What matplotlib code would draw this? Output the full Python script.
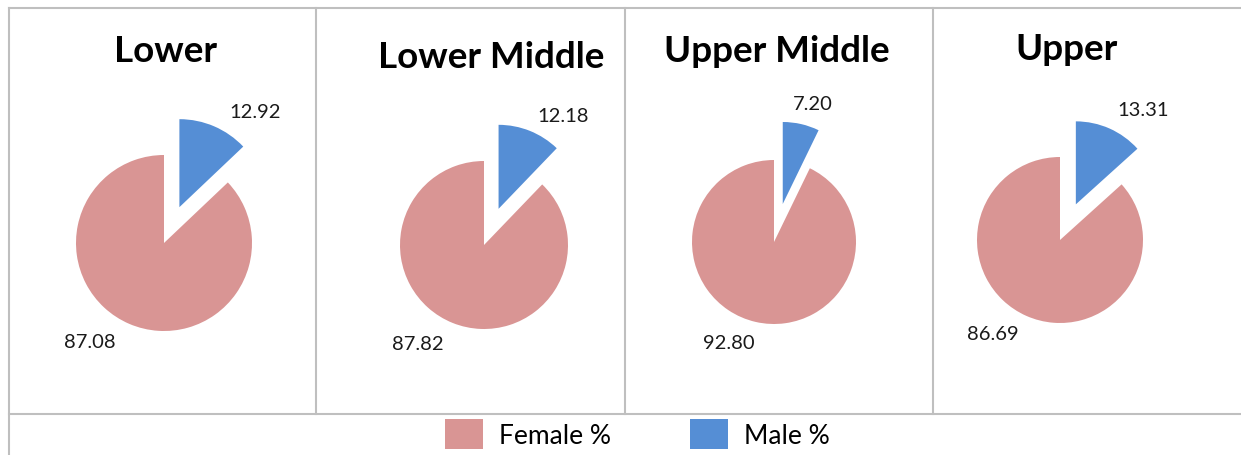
import matplotlib
matplotlib.use("Agg")
from matplotlib import pyplot as plt
from matplotlib.patches import Patch
from matplotlib.lines import Line2D

# data
classes = ["Lower", "Lower Middle", "Upper Middle", "Upper"]
female_pct = [87.08, 87.82, 92.80, 86.69]
male_pct = [12.92, 12.18, 7.20, 13.31]
series_names = ["Female %", "Male %"]

FEMALE_COL = "#D99594"
MALE_COL = "#558ED5"
GRID_COL = "#BFBFBF"

W, H = 1241, 456
plt.rcParams['font.family'] = ['Lato', 'DejaVu Sans']

# layout in pixels (y measured from the top of the image)
panel_left = [9, 316, 625, 933]
panel_width = [307, 309, 308, 308]
pie_center = [(164, 244), (484, 246), (774, 243), (1060, 241)]
pie_radius = [88, 84, 82, 83]
title_pos = [(166, 52), (491, 58), (777, 51), (1067, 50)]
male_lbl = [(255, 112), (563, 116), (813, 104), (1143, 110)]
female_lbl = [(90, 343), (418, 345), (729, 344), (993, 335)]
top, bottom_line = 9, 415

fig = plt.figure(figsize=(W / 100, H / 100), dpi=100)

for i, name in enumerate(classes):
    x0 = panel_left[i]
    w = panel_width[i]
    ax = fig.add_axes([x0 / W, (H - bottom_line) / H, w / W, (bottom_line - top) / H])

    cx, cy = pie_center[i]
    ax.pie([male_pct[i], female_pct[i]], colors=[MALE_COL, FEMALE_COL],
           startangle=90, counterclock=False, explode=[39, 0],
           radius=pie_radius[i], center=(cx, H - cy),
           wedgeprops=dict(linewidth=0), frame=True)
    ax.set_aspect('auto')
    ax.set_xlim(x0, x0 + w)
    ax.set_ylim(H - bottom_line, H - top)
    ax.axis('off')

    tx, ty = title_pos[i]
    ax.text(tx, H - ty, name, ha='center', va='center', fontsize=26.5,
            fontweight='bold', color='black')
    mx, my = male_lbl[i]
    ax.text(mx, H - my, f"{male_pct[i]:.2f}", ha='center', va='center',
            fontsize=14.5, color='#1a1a1a')
    fx, fy = female_lbl[i]
    ax.text(fx, H - fy, f"{female_pct[i]:.2f}", ha='center', va='center',
            fontsize=14.5, color='#1a1a1a')

# frame lines
def hline(y, x0, x1):
    fig.add_artist(Line2D([x0 / W, x1 / W], [1 - y / H, 1 - y / H],
                          color=GRID_COL, lw=1.5, transform=fig.transFigure))

def vline(x, y0, y1):
    fig.add_artist(Line2D([x / W, x / W], [1 - y0 / H, 1 - y1 / H],
                          color=GRID_COL, lw=1.5, transform=fig.transFigure))

hline(top, 9, W)
hline(bottom_line, 9, W)
vline(9, top, H)
for x in [316, 625, 933]:
    vline(x, top, bottom_line)

handles = [Patch(facecolor=FEMALE_COL, edgecolor='none'),
           Patch(facecolor=MALE_COL, edgecolor='none')]
fig.legend(handles, series_names, loc='center',
           bbox_to_anchor=(637 / W, 1 - 435 / H), ncol=2, frameon=False,
           fontsize=19, handlelength=1.44, handleheight=1.4,
           handletextpad=0.6, columnspacing=3.0, borderpad=0)

fig.savefig("out.png", dpi=100, facecolor='white')
